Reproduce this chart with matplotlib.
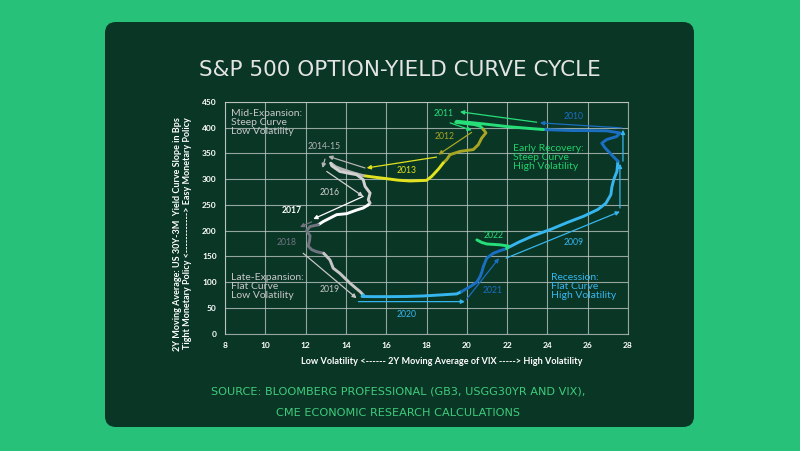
import matplotlib
matplotlib.use("Agg")
import matplotlib.pyplot as plt
from matplotlib.patches import FancyBboxPatch

# 2Y moving average of VIX (x) and US 30Y-3M slope in bps (y), by year
vix_2009 = [21.95, 22.6, 23.3, 24.2, 25.0, 25.8, 26.5, 26.9, 27.15, 27.2, 27.3, 27.45, 27.5]
slope_2009 = [165, 178, 190, 203, 216, 228, 241, 253, 270, 285, 300, 315, 335]
vix_2010 = [27.5, 27.27, 26.86, 26.7, 26.94, 27.44, 27.6, 26.94, 26.0, 25.28, 24.5, 23.8]
slope_2010 = [335, 344, 361, 370, 377, 383, 390, 394, 394.5, 394.5, 395.5, 396.5]
vix_2011 = [23.8, 23.0, 22.14, 21.5, 20.82, 20.2, 19.5, 19.45, 19.9, 20.4, 20.66, 20.82]
slope_2011 = [396.5, 399, 401.7, 404.5, 407.5, 410, 412.6, 410.5, 408.5, 406, 403, 397]
vix_2012 = [20.82, 20.95, 20.74, 20.57, 20.32, 19.66, 19.17, 19.0, 18.83]
slope_2012 = [397, 390, 380, 367, 357.5, 354, 347.7, 338, 331.6]
vix_2013 = [18.83, 18.6, 18.26, 18.0, 17.18, 16.6, 16.02, 15.4, 14.86]
slope_2013 = [331.6, 320, 305.5, 297.7, 296.5, 298, 301, 304, 306.8]
vix_2014 = [14.86, 14.3, 13.87, 13.5, 13.25]
slope_2014 = [306.8, 313, 318.5, 324, 331]
vix_2016 = [13.25, 13.3, 13.7, 14.2, 14.53, 14.86, 14.95, 15.2, 15.11, 15.2, 15.11]
slope_2016 = [331, 326, 315, 311, 308.8, 299, 286, 273, 260, 253.6, 250]
vix_2017 = [15.11, 14.86, 14.53, 14.04, 13.54, 12.88, 12.63]
slope_2017 = [250, 244, 240, 233, 231, 217.8, 211.4]
vix_2018 = [12.63, 12.22, 12.05, 12.22, 12.2, 12.13, 12.3, 12.55, 12.9]
slope_2018 = [211.4, 208, 200, 190, 182, 170, 163, 159, 156]
vix_2019 = [12.9, 13.21, 13.37, 13.7, 14.2, 14.5, 14.7, 14.86]
slope_2019 = [156, 143, 127, 117, 98, 88, 81.5, 75]
vix_2020 = [14.86, 14.8, 15.3, 16.19, 17.0, 17.84, 18.7, 19.5, 19.74]
slope_2020 = [75, 72, 71.7, 71.7, 72, 73, 75, 77, 81.5]
vix_2021 = [19.74, 20.16, 20.5, 20.66, 20.75, 20.82, 20.99, 21.32, 21.65, 21.98]
slope_2021 = [81.5, 91, 100, 110.7, 120, 130, 146.5, 156, 161, 165]
vix_2022 = [21.98, 22.06, 21.65, 21.0, 20.74, 20.5]
slope_2022 = [165, 170, 172.4, 174, 177, 182]

years = ["2009", "2010", "2011", "2012", "2013", "2014-15", "2016", "2017",
         "2018", "2019", "2020", "2021", "2022"]
series_x = [vix_2009, vix_2010, vix_2011, vix_2012, vix_2013, vix_2014, vix_2016,
            vix_2017, vix_2018, vix_2019, vix_2020, vix_2021, vix_2022]
series_y = [slope_2009, slope_2010, slope_2011, slope_2012, slope_2013, slope_2014,
            slope_2016, slope_2017, slope_2018, slope_2019, slope_2020, slope_2021,
            slope_2022]
colors = ["#36b6ee", "#1b6fc2", "#27df78", "#a6a623", "#e2e21e", "#b4b4b4", "#d2d2d2",
          "#ffffff", "#6f7580", "#c6c6c6", "#36b6ee", "#1b6fc2", "#27df78"]

# year label positions
label_x = [25.3, 25.3, 18.83, 18.88, 17.0, 12.91, 13.2, 11.31, 11.06, 13.21, 17.0, 21.28, 21.32]
label_y = [177, 422, 428, 382, 316, 364, 274, 239, 177, 85, 37, 83, 190]

# direction arrows: start, end, year index
arrow_x0 = [21.95, 27.6, 27.75, 27.69, 23.47, 19.17, 20.24, 18.5, 14.95, 12.96, 13.05, 14.86, 12.3, 11.88, 14.62, 19.99]
arrow_y0 = [146.5, 244, 335, 399.7, 410.7, 409.5, 391, 343, 321.8, 339, 315, 266.5, 217, 156, 62, 66.6]
arrow_x1 = [27.6, 27.6, 27.75, 23.63, 19.66, 20.24, 18.59, 15.03, 13.12, 12.84, 14.86, 12.38, 11.72, 14.53, 19.91, 21.6]
arrow_y1 = [237, 330, 396, 409.5, 431, 395, 347.7, 321.8, 344.5, 321.8, 266.5, 222.5, 207, 68.6, 62, 146.5]
arrow_idx = [0, 0, 0, 1, 2, 2, 3, 4, 5, 5, 6, 7, 8, 9, 10, 11]

regions = ["Mid-Expansion:\nSteep Curve\nLow Volatility",
           "Early Recovery:\nSteep Curve\nHigh Volatility",
           "Late-Expansion:\nFlat Curve\nLow Volatility",
           "Recession:\nFlat Curve\nHigh Volatility"]
region_x = [8.3, 22.3, 8.3, 24.2]
region_y = [437, 368, 118, 118]
region_colors = ["#c8c8c8", "#22cf6a", "#c8c8c8", "#36b6ee"]

x_ticks = list(range(8, 29, 2))
y_ticks = list(range(0, 451, 50))

fig = plt.figure(figsize=(8, 4.51), dpi=100)
fig.patch.set_facecolor("#27c17a")

bg = fig.add_axes([0, 0, 1, 1], zorder=-1)
bg.set_xlim(0, 800)
bg.set_ylim(451, 0)
bg.axis("off")
bg.add_patch(FancyBboxPatch((105, 22), 589, 405, boxstyle="round,pad=0,rounding_size=11",
                            facecolor="#0a3626", edgecolor="none"))

bg.text(400, 70, "S&P 500 OPTION-YIELD CURVE CYCLE", ha="center", va="center",
        fontsize=15.5, color="#e4e4e4", family="DejaVu Sans")
bg.text(398, 392, "SOURCE: BLOOMBERG PROFESSIONAL (GB3, USGG30YR AND VIX),", ha="center",
        va="center", fontsize=8.1, color="#3fcc7c", family="DejaVu Sans")
bg.text(398, 413, "CME ECONOMIC RESEARCH CALCULATIONS", ha="center", va="center",
        fontsize=8.1, color="#3fcc7c", family="DejaVu Sans")
bg.text(442, 362, "Low Volatility <------ 2Y Moving Average of VIX -----> High Volatility",
        ha="center", va="center", fontsize=6.6, fontweight="bold", color="#ffffff", family="Lato")
bg.text(177, 117, "2Y Moving Average: US 30Y-3M  Yield Curve Slope in Bps", rotation=90,
        ha="center", va="top", fontsize=6.5, fontweight="bold", color="#ffffff", family="Lato")
bg.text(188, 117, "Tight Monetary Policy <------------> Easy Monetary Policy", rotation=90,
        ha="center", va="top", fontsize=6.5, fontweight="bold", color="#ffffff", family="Lato")

ax = fig.add_axes([0.28125, 0.2605, 0.50375, 0.5133])
ax.set_facecolor("none")
ax.set_xlim(8, 28)
ax.set_ylim(0, 450)
ax.set_xticks(x_ticks)
ax.set_yticks(y_ticks)
ax.grid(True, color="#c3cdc6", lw=0.8, alpha=0.75)
ax.set_axisbelow(True)
for s in ax.spines.values():
    s.set_color("#c3cdc6")
    s.set_alpha(0.75)
    s.set_linewidth(0.8)
ax.tick_params(length=0, colors="#ffffff", labelsize=6, pad=6)
for lab in ax.get_xticklabels() + ax.get_yticklabels():
    lab.set_fontweight("bold")
    lab.set_family("Lato")

for xs, ys, c in zip(series_x, series_y, colors):
    ax.plot(xs, ys, color=c, lw=2.1, solid_capstyle="round", solid_joinstyle="round", zorder=3)

for x0, y0, x1, y1, i in zip(arrow_x0, arrow_y0, arrow_x1, arrow_y1, arrow_idx):
    ax.annotate("", xy=(x1, y1), xytext=(x0, y0),
                arrowprops=dict(arrowstyle="-|>", color=colors[i], lw=0.9,
                                mutation_scale=6, shrinkA=0, shrinkB=0), zorder=2)

for name, lx, ly, c in zip(years, label_x, label_y, colors):
    ax.text(lx, ly, name, ha="center", va="center", fontsize=6.2, color=c,
            fontweight="bold" if name == "2017" else "normal", family="Lato")

for txt, rx, ry, c in zip(regions, region_x, region_y, region_colors):
    ax.text(rx, ry, txt, ha="left", va="top", fontsize=7.5, color=c,
            linespacing=1.0, family="Lato")

fig.savefig("out.png", dpi=100, facecolor=fig.get_facecolor())
